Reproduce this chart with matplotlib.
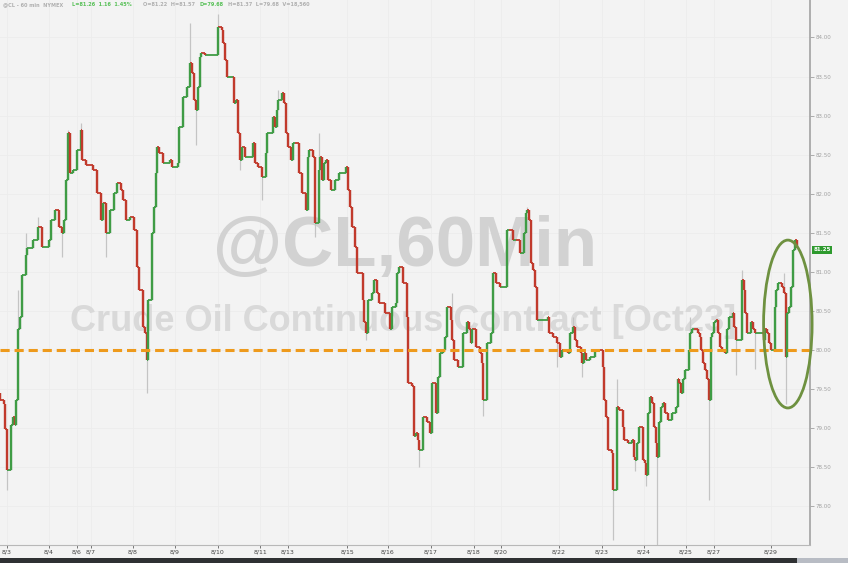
import matplotlib.pyplot as plt
from matplotlib.patches import Ellipse, Rectangle

# hourly bars of @CL (Oct23): hour index since 8/3 and close price
hours = [0, 2, 3, 4, 6, 7, 8, 9, 10, 11, 12, 14, 15, 18, 21, 23, 25, 27, 28, 30, 32, 34, 35, 36, 37, 38, 40, 42, 44, 45, 47,
         51, 53, 55, 56, 58, 60, 62, 64, 66, 67, 69, 71, 73, 75, 76, 78, 79, 80, 81, 83, 84, 85, 86, 87, 89, 91, 93, 94, 97,
         98, 100, 102, 104, 105, 106, 107, 108, 109, 110,
         112, 115, 119, 121, 122, 123, 124, 127, 128, 129, 130, 131, 132, 134, 138, 139, 141, 143, 145, 146, 149, 150, 151,
         152, 154, 155, 156, 157, 159, 160, 161, 163, 165, 167, 168, 169, 171, 172, 174, 175, 176, 177, 178, 179, 181, 183,
         185, 187, 189, 190, 191, 192, 194, 195, 198, 199, 200, 201, 203, 204, 206, 207, 210, 213, 214, 216, 217, 218, 220,
         222, 223, 225, 226,
         227, 228, 229, 231, 233, 235, 236, 238, 239, 240, 242, 243, 244, 246, 247, 248, 250, 251, 253, 255, 256, 257, 258,
         260, 262, 263, 264, 266, 268, 269, 271, 273, 275, 277, 278, 280, 282, 284, 286, 287, 288, 289, 290, 291, 292, 293,
         295, 296, 299, 300, 302, 304, 306, 307, 310, 311, 313, 314, 315, 317, 318, 319, 320, 322, 325, 327, 329, 330, 331,
         332, 334, 335,
         337, 338, 340, 341, 343, 345, 346, 347, 348, 349, 351, 352, 353, 354, 355, 356, 357, 358, 359, 360, 361, 362, 363,
         365, 367, 369, 370, 371, 372, 373, 374, 375, 376, 377, 378, 379, 381, 382, 383, 384, 385, 386, 387, 388, 389, 390,
         391, 392, 393, 394, 396, 397, 398, 400, 401, 402, 404, 405, 406, 407, 408, 410, 411, 412, 414, 416, 417, 418, 419,
         420, 421, 423, 424, 425, 426, 427, 428, 429, 430, 431, 432, 433, 434, 435]
closes = [79.36, 79.30, 78.98, 78.46, 79.04, 79.14, 79.04, 79.36, 80.26, 80.42, 80.96, 81.22, 81.31, 81.41, 81.57, 81.32,
          81.32, 81.41, 81.66, 81.79, 81.57, 81.50, 81.66, 82.18, 82.78, 82.27, 82.30, 82.56, 82.82, 82.43, 82.37,
          82.30, 82.01, 81.66, 81.88, 81.50, 81.79, 82.01, 82.14, 82.05, 81.92, 81.66, 81.70, 81.54, 81.06, 80.77, 80.29,
          80.22, 79.87, 80.64, 81.50, 81.83, 82.27, 82.60, 82.52, 82.39, 82.39, 82.43, 82.34, 82.39,
          82.85, 83.24, 83.37, 83.67, 83.55, 83.20, 83.07, 83.37, 83.75, 83.80,
          83.78, 83.78, 84.13, 84.10, 83.93, 83.71, 83.49, 83.49, 83.16, 83.20, 82.78, 82.43, 82.60, 82.47, 82.65, 82.39,
          82.34, 82.21, 82.52, 82.78, 82.98, 82.85, 83.07,
          83.20, 83.29, 83.16, 82.78, 82.60, 82.43, 82.65, 82.65, 82.27, 82.01, 81.79, 82.47, 82.56, 82.47, 81.63, 82.30,
          82.47, 82.18, 82.39, 82.43, 82.18, 82.05, 82.18,
          82.27, 82.27, 82.34, 82.05, 81.83, 81.57, 81.32, 80.99, 80.64, 80.35, 80.22, 80.64, 80.73, 80.90, 80.73, 80.60,
          80.47, 80.26, 80.55, 80.60, 80.99, 81.06, 80.86,
          80.42, 79.58, 79.53, 78.89,
          78.94, 78.85, 78.72, 79.14, 79.07, 78.94, 79.58, 79.19, 79.65, 79.96, 80.00, 80.17, 80.55, 80.38, 80.13, 79.87,
          79.78, 79.78, 80.22, 80.35, 80.26, 80.09, 80.26,
          80.04, 79.96, 79.83, 79.36, 80.09, 80.22, 80.99, 80.86, 80.81, 80.81, 81.54, 81.54, 81.41, 81.41, 81.24, 81.50,
          81.75, 81.79, 81.66, 81.11, 81.02, 80.81, 80.38,
          80.38, 80.38, 80.42, 80.22, 80.17, 80.09, 79.91, 80.00, 79.96, 80.22, 80.29, 80.13, 80.04, 79.96, 79.83, 79.96,
          79.87, 79.91, 80.00, 80.00, 79.78, 79.36, 79.14,
          78.72, 78.68, 78.21,
          79.27, 79.23, 79.01, 78.85, 78.81, 78.85, 78.63, 78.59, 78.81, 79.01, 78.59, 78.55, 78.40, 79.19, 79.40, 79.32,
          79.01, 78.81, 78.63, 79.07, 79.27, 79.32, 79.19,
          79.10, 79.19, 79.27, 79.62, 79.58, 79.45, 79.62, 79.74, 79.74, 80.00, 80.22, 80.26, 80.26, 80.22, 80.17, 80.00,
          79.83, 79.74, 79.62, 79.36, 80.17, 80.22, 80.35,
          80.38, 80.22, 80.04, 80.00, 79.96, 80.26, 80.42, 80.47, 80.29, 80.13, 80.13, 80.90, 80.77, 80.47, 80.22, 80.35,
          80.26, 80.22, 80.22, 80.22, 80.13, 80.26, 80.22,
          80.09, 80.00, 80.55, 80.77, 80.86, 80.86, 80.81, 80.73, 79.91, 80.47, 80.55, 80.81, 81.28, 81.41, 81.30]
first_open = 79.45

# wicks that stick out past the bodies
low_hours = [4, 34, 58, 80, 107, 131, 143, 172, 200, 229, 264, 304, 318, 335, 347, 353, 359, 387, 402, 412, 429]
low_vals = [78.21, 81.19, 81.19, 79.45, 82.62, 82.30, 81.92, 81.45, 80.13, 78.50, 79.15, 79.78, 79.65, 77.57, 78.45,
            78.25, 77.50, 78.08, 79.68, 79.75, 79.30]
high_hours = [10, 14, 21, 37, 44, 104, 119, 152, 174, 247, 288, 313, 337, 377, 405, 428]
high_vals = [80.77, 81.50, 81.70, 82.82, 82.91, 84.18, 84.30, 83.33, 82.78, 80.73, 81.83, 80.42, 79.62, 80.42, 81.02,
             80.99]

date_labels = ['8/3', '8/4', '8/6', '8/7', '8/8', '8/9', '8/10', '8/11', '8/13', '8/15', '8/16', '8/17', '8/18',
               '8/20', '8/22', '8/23', '8/24', '8/25', '8/27', '8/29']
date_hours = [3.8, 26.8, 42.0, 49.7, 72.6, 95.6, 119.0, 142.0, 157.2, 189.5, 211.8, 235.3, 258.8, 273.5, 305.2,
              328.7, 351.6, 374.6, 389.8, 421.0]
price_ticks = [78.0, 78.5, 79.0, 79.5, 80.0, 80.5, 81.0, 81.5, 82.0, 82.5, 83.0, 83.5, 84.0]
ref_level = 80.0
last_price = 81.28

bg = '#f3f3f3'
up_col = '#3f9c45'
dn_col = '#c13a2c'

fig = plt.figure(figsize=(8.48, 5.63), dpi=100, facecolor=bg)
ax = fig.add_axes([0, 18 / 563, 810 / 848, 545 / 563])
ax.set_facecolor(bg)
ax.set_xlim(0, 442.3)
ax.set_ylim(77.50, 84.48)

opens = [first_open] + closes[:-1]
highs = [max(o, c) for o, c in zip(opens, closes)]
lows = [min(o, c) for o, c in zip(opens, closes)]
for h, v in zip(low_hours, low_vals):
    lows[hours.index(h)] = v
for h, v in zip(high_hours, high_vals):
    highs[hours.index(h)] = v

# faint grid
for p in price_ticks:
    ax.axhline(p, color='#ececec', lw=0.6, zorder=0)
for d in date_hours:
    ax.axvline(d, color='#ececec', lw=0.6, zorder=0)

# watermark
ax.text(0.5, 0.545, '@CL,60Min', transform=ax.transAxes, ha='center', va='center',
        fontsize=51, fontweight='bold', family='Liberation Sans', color='#d2d2d2', zorder=1)
ax.text(0.497, 0.41, 'Crude Oil Continuous Contract [Oct23]', transform=ax.transAxes, ha='center', va='center',
        fontsize=26, fontweight='bold', family='Liberation Sans', color='#d9d9d9', zorder=1)

# candles: wicks, bodies and the step joining one close to the next open
cols = [up_col if c >= o else dn_col for o, c in zip(opens, closes)]
ax.vlines(hours, lows, highs, color='#c4c4c4', lw=0.9, zorder=2)
ax.hlines(closes[:-1], hours[:-1], hours[1:], colors=cols[1:], lw=1.3, zorder=3)
ax.vlines(hours, opens, closes, color=cols, lw=1.7, zorder=3)

# reference level
ax.axhline(ref_level, color='#ee9a1c', lw=2.2, ls=(0, (3, 1.6)), zorder=4)

# highlight of the last session
ax.add_patch(Ellipse((430.2, 80.33), 26.5, 2.15, fill=False, ec='#6e9140', lw=2.0, zorder=5, clip_on=False))

# axes styling
for s in ['left', 'top']:
    ax.spines[s].set_visible(False)
ax.spines['right'].set_color('#a8a8a8')
ax.spines['right'].set_linewidth(1.3)
ax.spines['bottom'].set_color('#b8b8b8')
ax.spines['bottom'].set_linewidth(0.8)
ax.yaxis.tick_right()
ax.set_yticks(price_ticks)
ax.set_yticklabels(['%.2f' % p for p in price_ticks])
ax.tick_params(axis='y', labelsize=4, colors='#a0a0a0', length=3, width=0.6, pad=1)
ax.set_xticks(date_hours)
ax.set_xticklabels(date_labels)
ax.tick_params(axis='x', labelsize=4.5, colors='#444444', length=2, width=0.5, pad=1.5)

# last price tag
ax.text(1.004, last_price, '%.2f' % (last_price - 0.03), transform=ax.get_yaxis_transform(), ha='left', va='center',
        fontsize=4, color='white', fontweight='bold',
        bbox=dict(boxstyle='square,pad=0.25', fc='#2e9a2e', ec='none'), clip_on=False)

# header line
hdr = [('@CL - 60 min  NYMEX', '#b0b0b0', 3), ('L=81.26  1.16  1.45%', '#58c058', 72),
       ('O=81.22  H=81.57', '#b0b0b0', 143), ('D=79.68', '#58c058', 200),
       ('H=81.37  L=79.68  V=18,560', '#b0b0b0', 228)]
for txt, col, px in hdr:
    ax.text(px / 810, 0.997, txt, transform=ax.transAxes, ha='left', va='top', fontsize=3.6, color=col,
            fontweight='bold')

# bottom scroll bar
fig.patches.append(Rectangle((0, 0), 0.94, 5 / 563, transform=fig.transFigure, fc='#2f3133', ec='none'))
fig.patches.append(Rectangle((0.94, 0), 0.06, 5 / 563, transform=fig.transFigure, fc='#b8bcc4', ec='none'))

fig.savefig('out.png', dpi=100, facecolor=bg)
